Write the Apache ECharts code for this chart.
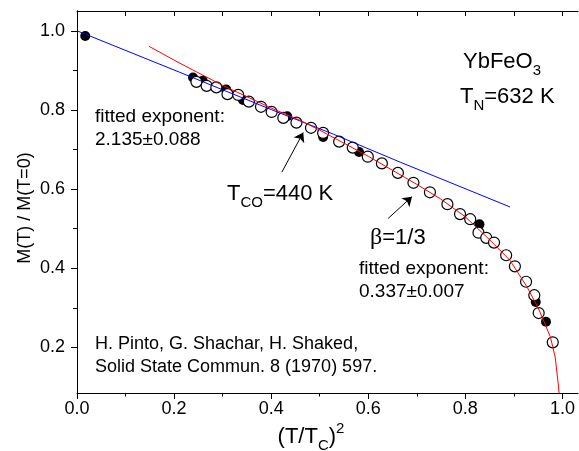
<!DOCTYPE html>
<html>
<head>
<meta charset="utf-8">
<title>YbFeO3 M(T)/M(0)</title>
<script src="https://cdn.jsdelivr.net/npm/echarts@6/dist/echarts.min.js"></script>
<style>
  html, body { margin: 0; padding: 0; background: #fff; }
  #chart { width: 579px; height: 451px; }
</style>
</head>
<body>
<div id="chart"></div>
<script>
const filledX = [0.017, 0.239, 0.259, 0.307, 0.342, 0.433, 0.507, 0.581, 0.829, 0.945, 0.966]
const filledY = [0.987, 0.882, 0.874, 0.852, 0.825, 0.784, 0.732, 0.694, 0.511, 0.315, 0.265]

const openX = [0.246, 0.267, 0.287, 0.310, 0.332, 0.354, 0.379, 0.401, 0.425, 0.452, 0.482,
  0.507, 0.540, 0.568, 0.599, 0.628, 0.661, 0.693, 0.727, 0.763, 0.789, 0.810, 0.827,
  0.843, 0.859, 0.884, 0.902, 0.925, 0.942, 0.951, 0.980]
const openY = [0.871, 0.861, 0.857, 0.840, 0.838, 0.821, 0.808, 0.795, 0.780, 0.768, 0.755,
  0.742, 0.720, 0.705, 0.682, 0.665, 0.641, 0.616, 0.592, 0.562, 0.537, 0.524, 0.490,
  0.477, 0.465, 0.433, 0.405, 0.366, 0.332, 0.287, 0.213]

// low-T fit (blue), exponent 2.135
const blueX = [0, 0.212, 0.400, 0.528, 0.666, 0.748, 0.892]
const blueY = [1.0, 0.895, 0.801, 0.739, 0.668, 0.627, 0.555]

// critical fit (red), beta = 1/3
const redX = [0.148, 0.212, 0.300, 0.400, 0.459, 0.500, 0.600, 0.700, 0.748, 0.800, 0.850,
  0.892, 0.927, 0.950, 0.975, 0.985, 0.992, 0.995]
const redY = [0.961, 0.918, 0.862, 0.805, 0.774, 0.749, 0.683, 0.612, 0.576, 0.530, 0.472,
  0.420, 0.353, 0.300, 0.227, 0.176, 0.100, 0.050]

const xMajor = [0, 0.2, 0.4, 0.6, 0.8, 1.0]
const xMinor = [0.1, 0.3, 0.5, 0.7, 0.9]
const xTop = [0.1, 0.2, 0.3, 0.4, 0.5, 0.6, 0.7, 0.8, 0.9, 1.0]
const yMajor = [0.2, 0.4, 0.6, 0.8, 1.0]
const yMinor = [0.3, 0.5, 0.7, 0.9]

const FONT = "'Liberation Sans', Arial, sans-serif"
const SERIF = "'Liberation Serif', 'DejaVu Serif', serif"

const zip = (xs, ys) => xs.map((x, i) => [x, ys[i]])

const chart = echarts.init(document.getElementById('chart'))

const richStyle = {
  m: { fontSize: 22, fontFamily: FONT, fill: '#000', lineHeight: 32, verticalAlign: 'middle' },
  s: { fontSize: 15, fontFamily: FONT, fill: '#000', lineHeight: 15, verticalAlign: 'bottom' },
  p: { fontSize: 15, fontFamily: FONT, fill: '#000', lineHeight: 15, verticalAlign: 'top' },
  b: { fontSize: 24, fontFamily: SERIF, fill: '#000', lineHeight: 32, verticalAlign: 'middle' }
}

const label = (x, y, text, size, align) => ({
  type: 'text', x, y, silent: true,
  style: { text, font: size + 'px ' + FONT, fill: '#000', textAlign: align || 'left', textVerticalAlign: 'middle' }
})

const richLabel = (x, y, text, align) => ({
  type: 'text', x, y, silent: true,
  style: { text, rich: richStyle, textAlign: align || 'left', textVerticalAlign: 'middle' }
})

const blackLine = { show: true, lineStyle: { color: '#000', width: 1 } }

const option = {
  animation: false,
  backgroundColor: '#fff',
  grid: { left: 77, right: 1, top: 11, bottom: 58 },
  xAxis: [
    {
      type: 'value', position: 'bottom', min: 0, max: 1.032,
      axisLine: blackLine,
      axisTick: { customValues: xMajor, length: 6, lineStyle: { color: '#000' } },
      axisLabel: { customValues: xMajor, margin: 7, fontSize: 18, fontFamily: FONT, color: '#000',
        formatter: v => v.toFixed(1) },
      splitLine: { show: false }
    },
    {
      type: 'value', position: 'bottom', min: 0, max: 1.032,
      axisLine: { show: false },
      axisTick: { customValues: xMinor, length: 3.5, lineStyle: { color: '#000' } },
      axisLabel: { show: false },
      splitLine: { show: false }
    },
    {
      type: 'value', position: 'top', min: 0, max: 1.032,
      axisLine: blackLine,
      axisTick: { customValues: xTop, inside: true, length: 5, lineStyle: { color: '#000' } },
      axisLabel: { show: false },
      splitLine: { show: false }
    }
  ],
  yAxis: [
    {
      type: 'value', position: 'left', min: 0.085, max: 1.05,
      axisLine: blackLine,
      axisTick: { customValues: yMajor, length: 6, lineStyle: { color: '#000' } },
      axisLabel: { customValues: yMajor, margin: 12, fontSize: 18, fontFamily: FONT, color: '#000',
        formatter: v => v.toFixed(1) },
      splitLine: { show: false }
    },
    {
      type: 'value', position: 'left', min: 0.085, max: 1.05,
      axisLine: { show: false },
      axisTick: { customValues: yMinor, length: 4, lineStyle: { color: '#000' } },
      axisLabel: { show: false },
      splitLine: { show: false }
    },
    {
      type: 'value', position: 'right', min: 0.085, max: 1.05,
      axisLine: blackLine,
      axisTick: { customValues: yMajor, inside: true, length: 5, lineStyle: { color: '#000' } },
      axisLabel: { show: false },
      splitLine: { show: false }
    }
  ],
  series: [
    {
      name: 'filled', type: 'scatter', z: 2,
      data: zip(filledX, filledY),
      symbol: 'circle', symbolSize: 10,
      itemStyle: { color: '#000', opacity: 1 },
      emphasis: { disabled: true }
    },
    {
      name: 'open', type: 'scatter', z: 3,
      data: zip(openX, openY),
      symbol: 'circle', symbolSize: 11,
      itemStyle: { color: '#fff', borderColor: '#000', borderWidth: 1.2, opacity: 1 },
      emphasis: { disabled: true }
    },
    {
      name: 'low-T fit', type: 'line', z: 4,
      data: zip(blueX, blueY),
      showSymbol: false,
      lineStyle: { color: '#0000ff', width: 1 },
      emphasis: { disabled: true },
      markLine: {
        silent: true,
        symbol: ['none', 'arrow'],
        symbolSize: 9,
        label: { show: false },
        lineStyle: { color: '#000', width: 1, type: 'solid' },
        data: [
          [{ coord: [0.422, 0.643] }, { coord: [0.466, 0.743] }],
          [{ coord: [0.641, 0.526] }, { coord: [0.690, 0.581] }]
        ]
      }
    },
    {
      name: 'critical fit', type: 'line', z: 4,
      data: zip(redX, redY),
      showSymbol: false,
      lineStyle: { color: '#ff0000', width: 1 },
      emphasis: { disabled: true }
    }
  ],
  graphic: [
    label(95, 117, 'fitted exponent:', 19),
    label(95, 140, '2.135\u00b10.088', 19),
    richLabel(463, 62, '{m|YbFeO}{s|3}'),
    richLabel(460, 97, '{m|T}{s|N}{m|=632 K}'),
    richLabel(227, 194, '{m|T}{s|CO}{m|=440 K}'),
    richLabel(370, 238, '{b|\u03b2}{m|=1/3}'),
    label(359, 269, 'fitted exponent:', 19),
    label(359, 292, '0.337\u00b10.007', 19),
    label(95, 344, 'H. Pinto, G. Shachar, H. Shaked,', 18),
    label(95, 367, 'Solid State Commun. 8 (1970) 597.', 18),
    richLabel(311, 437, '{m|(T/T}{s|C}{m|)}{p|2}', 'center'),
    Object.assign(label(25, 208, 'M(T) / M(T=0)', 18, 'center'), { rotation: Math.PI / 2 })
  ]
}

chart.setOption(option)
</script>
</body>
</html>
